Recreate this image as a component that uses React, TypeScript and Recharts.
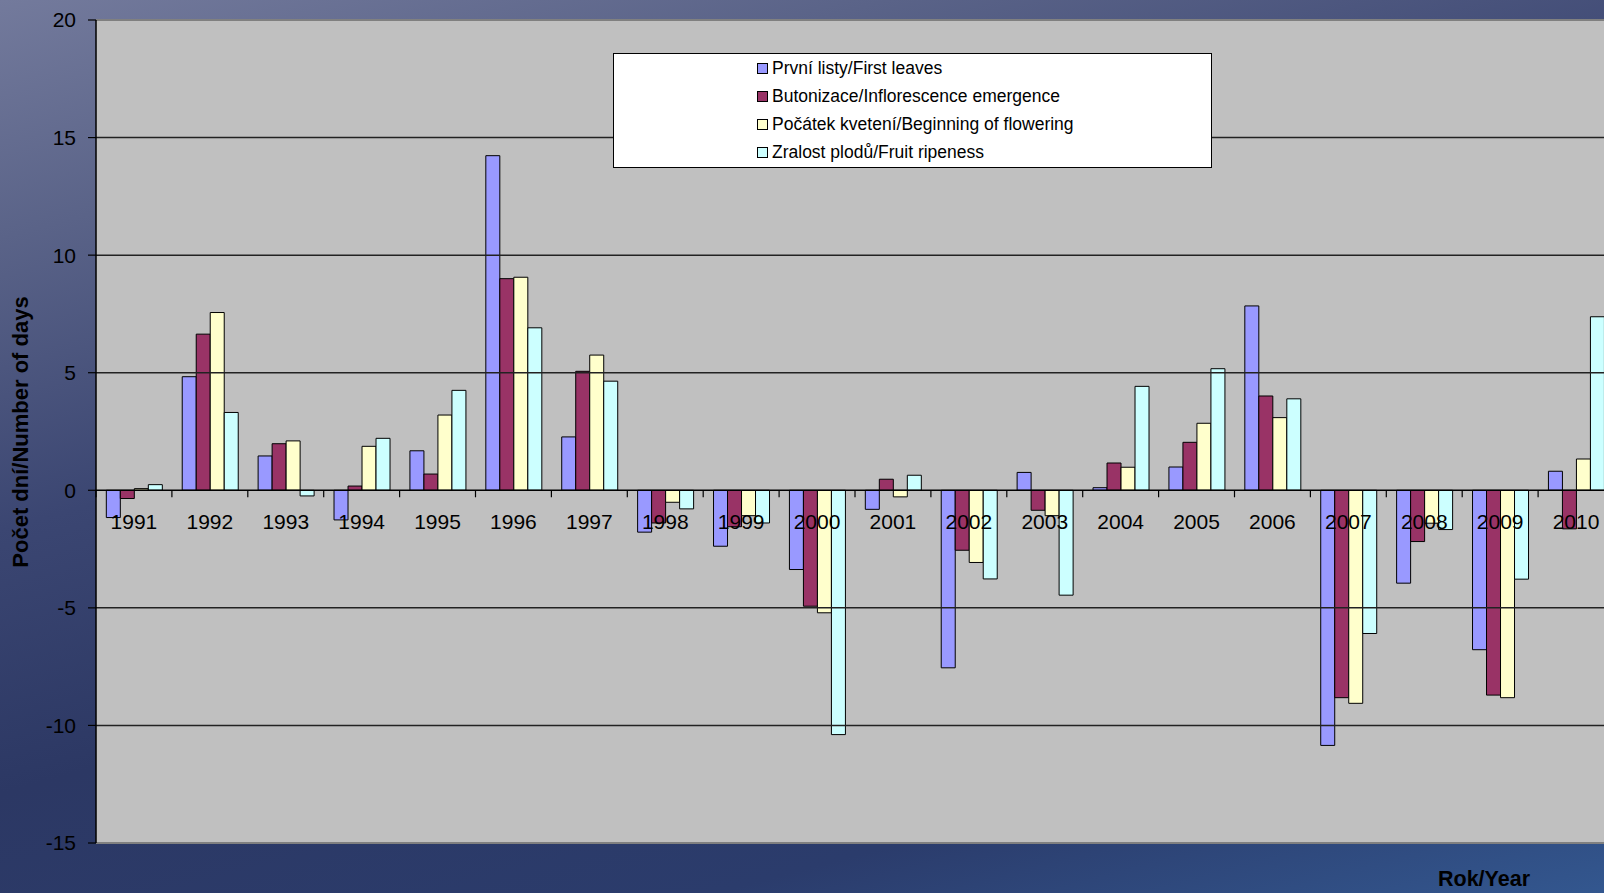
import { BarChart, Bar, XAxis, YAxis, CartesianGrid, ReferenceLine, Legend } from 'recharts'

const years = ['1991', '1992', '1993', '1994', '1995', '1996', '1997', '1998', '1999', '2000', '2001', '2002', '2003', '2004', '2005', '2006', '2007', '2008', '2009', '2010']
const firstLeaves = [-1.16, 4.83, 1.46, -1.26, 1.68, 14.23, 2.27, -1.78, -2.38, -3.37, -0.81, -7.55, 0.76, 0.11, 0.99, 7.84, -10.85, -3.95, -6.78, 0.81]
const inflorescence = [-0.35, 6.64, 1.98, 0.18, 0.69, 9.0, 5.06, -1.39, -1.55, -4.93, 0.47, -2.55, -0.85, 1.16, 2.04, 4.01, -8.82, -2.18, -8.71, -1.64]
const flowering = [0.07, 7.56, 2.1, 1.87, 3.2, 9.06, 5.75, -0.51, -1.08, -5.21, -0.28, -3.07, -1.08, 0.98, 2.85, 3.09, -9.06, -1.4, -8.82, 1.33]
const ripeness = [0.24, 3.31, -0.24, 2.21, 4.25, 6.91, 4.64, -0.79, -1.39, -10.39, 0.64, -3.77, -4.46, 4.42, 5.17, 3.89, -6.09, -1.67, -3.78, 7.38]

const yTicks = [-15, -10, -5, 0, 5, 10, 15, 20]
const gridValues = [-10, -5, 5, 10, 15]

const seriesNames = [
  'První listy/First leaves',
  'Butonizace/Inflorescence emergence',
  'Počátek kvetení/Beginning of flowering',
  'Zralost plodů/Fruit ripeness'
]
const seriesColors = ['#9999ff', '#993366', '#ffffcc', '#ccffff']

const data = years.map((year, i) => ({
  year,
  s0: firstLeaves[i],
  s1: inflorescence[i],
  s2: flowering[i],
  s3: ripeness[i]
}))

const FONT = '"Liberation Sans", Arial, sans-serif'
const CHART_W = 1628
const CHART_H = 893
const MARGIN = { top: 20, right: 14, bottom: 0, left: 0 }
const Y_AXIS_W = 96
const X_AXIS_H = 50

// x labels sit just under the zero line, like in Excel
const plotH = CHART_H - MARGIN.top - MARGIN.bottom - X_AXIS_H
const plotW = CHART_W - MARGIN.left - MARGIN.right - Y_AXIS_W
const zeroY = MARGIN.top + (plotH * yTicks[yTicks.length - 1]) / (yTicks[yTicks.length - 1] - yTicks[0])
const band = plotW / years.length

function YearTick({ x, payload }: any) {
  return (
    <g>
      <line x1={x - band / 2} x2={x - band / 2} y1={zeroY} y2={zeroY + 7} stroke="#000" strokeWidth={1.2} />
      <text x={x} y={zeroY + 39} textAnchor="middle" fontSize={21} fontFamily={FONT} fill="#000">
        {payload.value}
      </text>
    </g>
  )
}

function LegendBox() {
  return (
    <div
      style={{
        background: '#fff',
        border: '1.5px solid #000',
        boxSizing: 'border-box',
        width: 599,
        height: 115,
        paddingLeft: 143,
        paddingTop: 1,
        fontFamily: FONT,
        fontSize: 17.5,
        color: '#000'
      }}
    >
      {seriesNames.map((name, i) => (
        <div key={name} style={{ display: 'flex', alignItems: 'center', height: 27.8 }}>
          <span
            style={{
              display: 'inline-block',
              width: 9,
              height: 9,
              background: seriesColors[i],
              border: '1px solid #000',
              marginRight: 4
            }}
          />
          <span style={{ whiteSpace: 'nowrap' }}>{name}</span>
        </div>
      ))}
    </div>
  )
}

export default function App() {
  return (
    <div
      style={{
        position: 'absolute',
        left: 0,
        top: 0,
        width: 1604,
        height: 893,
        overflow: 'hidden',
        background:
          'linear-gradient(165deg, #737a9c 0%, #5a6388 18%, #3b4672 40%, #2c3864 60%, #2b3c6c 82%, #33578f 100%)'
      }}
    >
      <BarChart
        width={CHART_W}
        height={CHART_H}
        data={data}
        margin={MARGIN}
        barCategoryGap="13.6%"
        barGap={0}
      >
        <CartesianGrid horizontal={false} vertical={false} fill="#c0c0c0" />
        <ReferenceLine y={20} stroke="#808080" strokeWidth={2} />
        <ReferenceLine y={-15} stroke="#808080" strokeWidth={2} />
        {gridValues.map(v => (
          <ReferenceLine key={v} y={v} stroke="#222" strokeWidth={1.5} />
        ))}
        <XAxis
          dataKey="year"
          height={X_AXIS_H}
          axisLine={false}
          tickLine={false}
          tick={<YearTick />}
          interval={0}
        />
        <YAxis
          width={Y_AXIS_W}
          domain={[-15, 20]}
          ticks={yTicks}
          allowDataOverflow
          axisLine={{ stroke: '#000', strokeWidth: 1.5 }}
          tickLine={{ stroke: '#000', strokeWidth: 1.2 }}
          tickSize={8}
          tickMargin={12}
          tick={{ fill: '#000', fontSize: 21, fontFamily: FONT }}
        />
        {seriesNames.map((name, i) => (
          <Bar
            key={name}
            dataKey={`s${i}`}
            name={name}
            fill={seriesColors[i]}
            stroke="#000"
            strokeWidth={1}
            isAnimationActive={false}
          />
        ))}
        <ReferenceLine y={0} stroke="#000" strokeWidth={1.5} />
        <Legend
          layout="horizontal"
          verticalAlign="middle"
          align="center"
          content={<LegendBox />}
          wrapperStyle={{ left: 613, top: 53, width: 599, height: 115 }}
        />
      </BarChart>
      <div
        style={{
          position: 'absolute',
          left: 21,
          top: 432,
          transform: 'translate(-50%, -50%) rotate(-90deg)',
          whiteSpace: 'nowrap',
          fontFamily: FONT,
          fontWeight: 'bold',
          fontSize: 22,
          color: '#000'
        }}
      >
        Počet dní/Number of days
      </div>
      <div
        style={{
          position: 'absolute',
          left: 1438,
          top: 867,
          whiteSpace: 'nowrap',
          fontFamily: FONT,
          fontWeight: 'bold',
          fontSize: 21.5,
          color: '#000'
        }}
      >
        Rok/Year
      </div>
    </div>
  )
}
